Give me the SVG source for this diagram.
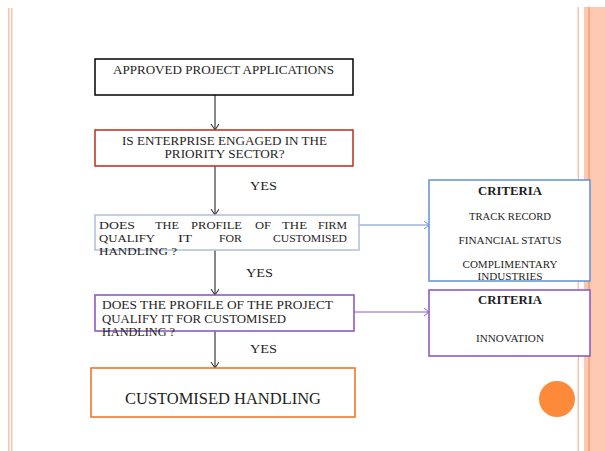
<svg xmlns="http://www.w3.org/2000/svg" width="605" height="451" viewBox="0 0 605 451">
<style>
text{font-family:"Liberation Serif","Times New Roman",serif;fill:#1e1e1e;}
.t{font-size:11.5px;}
.w{font-size:11px;}
.c{font-size:9.5px;text-anchor:middle;}
.h{font-size:11.5px;font-weight:bold;text-anchor:middle;}
.y{font-size:13px;}
.box{fill:#fff;}
</style>
<defs>
<marker id="ah" markerWidth="10" markerHeight="10" refX="7" refY="4" orient="auto" markerUnits="userSpaceOnUse" viewBox="0 0 10 10">
<path d="M1,0 L7,4 L1,8" fill="none" stroke="#111" stroke-width="1"/>
</marker>
<marker id="ab" markerWidth="10" markerHeight="10" refX="7" refY="4" orient="auto" markerUnits="userSpaceOnUse" viewBox="0 0 10 10">
<path d="M2,0 L7,4 L2,8" fill="none" stroke="#6a8fd6" stroke-width="1"/>
</marker>
<marker id="ap" markerWidth="10" markerHeight="10" refX="7" refY="4" orient="auto" markerUnits="userSpaceOnUse" viewBox="0 0 10 10">
<path d="M2,0 L7,4 L2,8" fill="none" stroke="#8e5cc2" stroke-width="1"/>
</marker>
</defs>
<rect width="605" height="451" fill="#fff"/>
<g id="decor">
<rect x="8" y="8" width="1.5" height="443" fill="#fbc3ad"/>
<rect x="11" y="8" width="1.5" height="443" fill="#fbc3ad"/>
<rect x="577.5" y="7" width="1.5" height="444" fill="#fbc3ad"/>
<rect x="584" y="7" width="21" height="444" fill="#fdc8b2"/>
<rect x="588" y="7" width="2" height="444" fill="#fba67f"/>
<circle cx="557" cy="399" r="18" fill="#fd8a3b"/>
</g>
<g id="connectors" fill="none">
<line x1="215" y1="95" x2="215" y2="130" stroke="#111" marker-end="url(#ah)"/>
<line x1="215" y1="166" x2="215" y2="215" stroke="#111" marker-end="url(#ah)"/>
<line x1="215" y1="250" x2="215" y2="295" stroke="#111" marker-end="url(#ah)"/>
<line x1="215" y1="331" x2="215" y2="368" stroke="#111" marker-end="url(#ah)"/>
<line x1="359" y1="225" x2="429" y2="225" stroke="#6a8fd6" marker-end="url(#ab)"/>
<line x1="354" y1="312" x2="429" y2="312" stroke="#8e5cc2" marker-end="url(#ap)"/>
<text class="y" x="250" y="190" textLength="27" lengthAdjust="spacingAndGlyphs">YES</text>
<text class="y" x="246" y="277" textLength="27" lengthAdjust="spacingAndGlyphs">YES</text>
<text class="y" x="250" y="353" textLength="27" lengthAdjust="spacingAndGlyphs">YES</text>
</g>
<g id="n1">
<rect class="box" x="95" y="59" width="258" height="36" stroke="#111" stroke-width="1.6"/>
<text class="t" x="223.5" y="74" text-anchor="middle" textLength="221" lengthAdjust="spacingAndGlyphs">APPROVED PROJECT APPLICATIONS</text>
</g>
<g id="n2">
<rect class="box" x="95" y="130" width="258" height="36" stroke="#c0392b" stroke-width="1.6"/>
<text class="t" x="224.5" y="145" text-anchor="middle" textLength="205" lengthAdjust="spacingAndGlyphs">IS ENTERPRISE ENGAGED IN THE</text>
<text class="t" x="224.5" y="158" text-anchor="middle" textLength="120" lengthAdjust="spacingAndGlyphs">PRIORITY SECTOR?</text>
</g>
<g id="n3">
<rect class="box" x="95" y="215" width="264" height="35" stroke="#b4c2dc" stroke-width="1.6"/>
<text class="w" x="99" y="229" textLength="36" lengthAdjust="spacingAndGlyphs">DOES</text>
<text class="w" x="155" y="229" textLength="24" lengthAdjust="spacingAndGlyphs">THE</text>
<text class="w" x="191" y="229" textLength="51" lengthAdjust="spacingAndGlyphs">PROFILE</text>
<text class="w" x="255" y="229" textLength="16" lengthAdjust="spacingAndGlyphs">OF</text>
<text class="w" x="282" y="229" textLength="25" lengthAdjust="spacingAndGlyphs">THE</text>
<text class="w" x="318" y="229" textLength="29" lengthAdjust="spacingAndGlyphs">FIRM</text>
<text class="w" x="99" y="242" textLength="56" lengthAdjust="spacingAndGlyphs">QUALIFY</text>
<text class="w" x="178" y="242" textLength="14" lengthAdjust="spacingAndGlyphs">IT</text>
<text class="w" x="219" y="242" textLength="23" lengthAdjust="spacingAndGlyphs">FOR</text>
<text class="w" x="273" y="242" textLength="74" lengthAdjust="spacingAndGlyphs">CUSTOMISED</text>
<text class="w" x="99" y="255" textLength="78" lengthAdjust="spacingAndGlyphs">HANDLING ?</text>
</g>
<g id="n4">
<rect class="box" x="95" y="295" width="259" height="36" stroke="#8e5cc2" stroke-width="1.6"/>
<text class="t" x="102" y="309" textLength="231" lengthAdjust="spacingAndGlyphs">DOES  THE PROFILE OF THE PROJECT</text>
<text class="t" x="102" y="323" textLength="184" lengthAdjust="spacingAndGlyphs">QUALIFY IT FOR CUSTOMISED</text>
<text class="t" x="102" y="336" textLength="73" lengthAdjust="spacingAndGlyphs">HANDLING ?</text>
</g>
<g id="n5">
<rect class="box" x="91" y="368" width="264" height="49" stroke="#f0772a" stroke-width="1.6"/>
<text x="223" y="404" text-anchor="middle" style="font-size:16px" textLength="196" lengthAdjust="spacingAndGlyphs">CUSTOMISED HANDLING</text>
</g>
<g id="c1">
<rect class="box" x="429" y="180" width="161" height="101" stroke="#6a96d8" stroke-width="1.6"/>
<text class="h" x="510" y="195" textLength="64" lengthAdjust="spacingAndGlyphs">CRITERIA</text>
<text class="c" x="510" y="220" textLength="82" lengthAdjust="spacingAndGlyphs">TRACK RECORD</text>
<text class="c" x="510" y="244" textLength="103" lengthAdjust="spacingAndGlyphs">FINANCIAL STATUS</text>
<text class="c" x="510" y="268" textLength="95" lengthAdjust="spacingAndGlyphs">COMPLIMENTARY</text>
<text class="c" x="510" y="280" textLength="65" lengthAdjust="spacingAndGlyphs">INDUSTRIES</text>
</g>
<g id="c2">
<rect class="box" x="429" y="290" width="161" height="66" stroke="#8e5cc2" stroke-width="1.6"/>
<text class="h" x="510" y="304" textLength="64" lengthAdjust="spacingAndGlyphs">CRITERIA</text>
<text class="c" x="510" y="342" textLength="68" lengthAdjust="spacingAndGlyphs">INNOVATION</text>
</g>
</svg>
